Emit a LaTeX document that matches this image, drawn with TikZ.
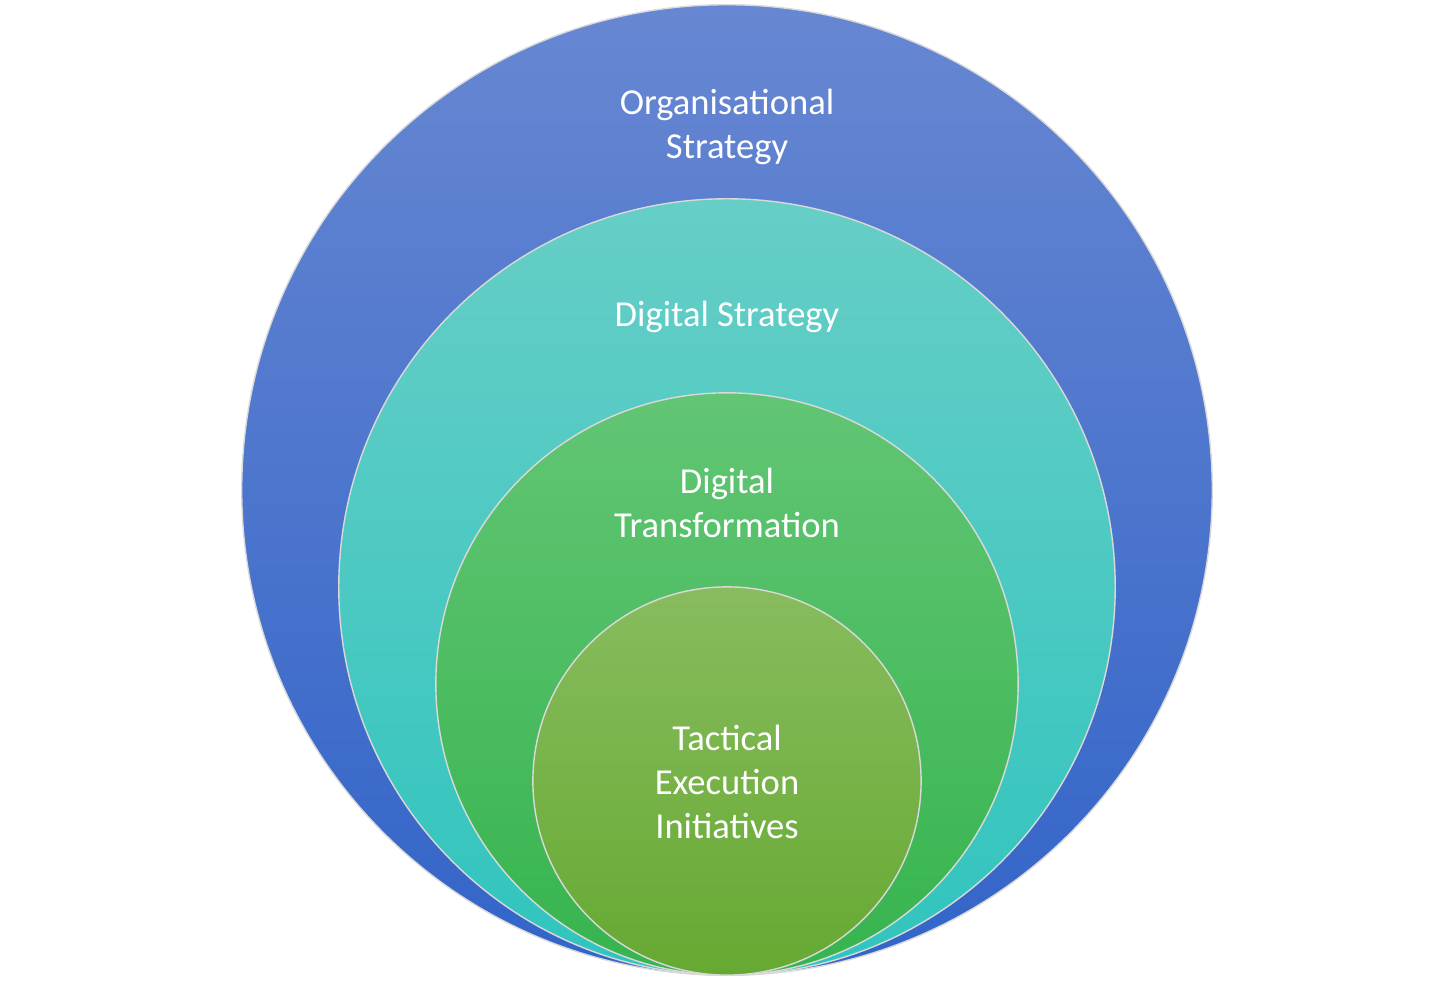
\documentclass[tikz,border=0pt]{standalone}
\usepackage{fontspec}
\setmainfont{Carlito}
\usetikzlibrary{positioning}
\definecolor{orgtop}{HTML}{6787D2}
\definecolor{orgbot}{HTML}{3264C8}
\definecolor{digtop}{HTML}{66CEC6}
\definecolor{digbot}{HTML}{30C4BE}
\definecolor{trtop}{HTML}{62C574}
\definecolor{trbot}{HTML}{36B44E}
\definecolor{tactop}{HTML}{88BC5E}
\definecolor{tacbot}{HTML}{66A932}
\tikzset{
  ring/.style={circle, draw=white!70!gray, line width=0.4pt, inner sep=0pt},
  label/.style={text=white, align=center, font=\fontsize{10.4}{12.6}\selectfont}
}
\begin{document}
\begin{tikzpicture}[x=0.01cm, y=-0.01cm]
\useasboundingbox (0,0) rectangle (1456,988);
\node[ring, minimum size=9.70cm, top color=orgtop, bottom color=orgbot] (org) at (727,490) {};
\node[ring, minimum size=7.76cm, top color=digtop, bottom color=digbot] (dig) at (727,587) {};
\node[ring, minimum size=5.82cm, top color=trtop, bottom color=trbot] (trans) at (727,684) {};
\node[ring, minimum size=3.88cm, top color=tactop, bottom color=tacbot] (tac) at (727,781) {};
\node[label] (orglabel) at (727,127) {Organisational\\Strategy};
\node[label] (diglabel) at (727,317) {Digital Strategy};
\node[label] (translabel) at (727,503) {Digital\\Transformation};
\node[label] (taclabel) at (727,782) {Tactical\\Execution\\Initiatives};
\end{tikzpicture}
\end{document}
